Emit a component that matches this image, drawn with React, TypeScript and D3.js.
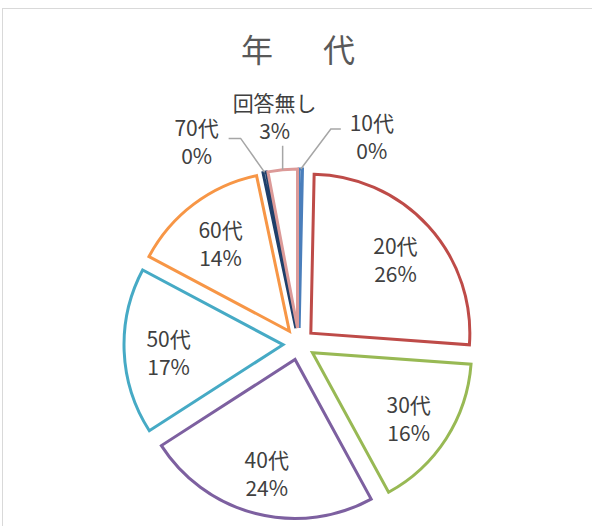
import React from "react";
import * as d3 from "d3";

const categories = ["10代", "20代", "30代", "40代", "50代", "60代", "70代", "回答無し"];
const counts = [1, 78, 48, 72, 51, 42, 1, 9];
const colors = ["#4A7EBB", "#BE4B48", "#98B954", "#7D60A0", "#46AAC5", "#F79646", "#1F3F6A", "#DC9A98"];
const title = "年　代";

const W = 592;
const H = 526;
const CX = 299;
const CY = 344;
const R = 159;
const EXPLODE = 16;

// outside label layout (relative to slice outer point): elbow, end, label center
const outside: Record<string, { ex: number; ey: number; hx: number; lx: number; ly: number; vertical?: boolean }> = {
  "10代": { ex: 30, ey: -40, hx: 10, lx: 71, ly: -31 },
  "70代": { ex: -24, ey: -34, hx: -12, lx: -68, ly: -29 },
  "回答無し": { ex: 0, ey: -24, hx: 0, lx: -8, ly: -52, vertical: true },
};

export default function App() {
  const total = d3.sum(counts);
  const pie = d3.pie<number>().sort(null).startAngle(0).endAngle(2 * Math.PI);
  const arcs = pie(counts);
  const arc = d3.arc<d3.PieArcDatum<number>>().innerRadius(0).outerRadius(R);
  const fmt = (v: number) => `${Math.round((v / total) * 100)}%`;

  return (
    <svg width={W} height={H} style={{ position: "absolute", left: 0, top: 0, background: "#fff" }}>
      <rect x={2.5} y={8.5} width={700} height={700} fill="#fff" stroke="#D9D9D9" strokeWidth={1} />
      <text
        x={241}
        y={62}
        fontFamily="'Noto Sans CJK JP', sans-serif"
        fontSize={32}
        letterSpacing={9}
        fill="#595959"
      >
        {title}
      </text>
      {arcs.map((a, i) => {
        const mid = (a.startAngle + a.endAngle) / 2;
        const dx = Math.sin(mid) * EXPLODE;
        const dy = -Math.cos(mid) * EXPLODE;
        return (
          <path
            key={categories[i]}
            d={arc(a) || ""}
            transform={`translate(${CX + dx},${CY + dy})`}
            fill="#fff"
            stroke={colors[i]}
            strokeWidth={3}
            strokeLinejoin="miter"
          />
        );
      })}
      {arcs.map((a, i) => {
        const mid = (a.startAngle + a.endAngle) / 2;
        const sx = CX + Math.sin(mid) * EXPLODE;
        const sy = CY - Math.cos(mid) * EXPLODE;
        const name = categories[i];
        const o = outside[name];
        const tStyle = {
          fontFamily: "'Noto Sans CJK JP', sans-serif",
          fontSize: 21,
          fill: "#404040",
          textAnchor: "middle" as const,
        };
        if (o) {
          const px = sx + Math.sin(mid) * R;
          const py = sy - Math.cos(mid) * R;
          const ex = px + o.ex;
          const ey = py + o.ey;
          const pts = o.vertical
            ? `${px},${py} ${ex},${ey}`
            : `${px},${py} ${ex},${ey} ${ex + o.hx},${ey}`;
          const lx = px + o.lx;
          const ly = py + o.ly;
          return (
            <g key={name}>
              <polyline points={pts} fill="none" stroke="#A6A6A6" strokeWidth={1.5} />
              <text x={lx} y={ly - 7} style={tStyle}>{name}</text>
              <text x={lx} y={ly + 21} style={tStyle}>{fmt(counts[i])}</text>
            </g>
          );
        }
        const lr = R * 0.72;
        const lx = sx + Math.sin(mid) * lr;
        const ly = sy - Math.cos(mid) * lr;
        return (
          <g key={name}>
            <text x={lx} y={ly - 2} style={tStyle}>{name}</text>
            <text x={lx} y={ly + 26} style={tStyle}>{fmt(counts[i])}</text>
          </g>
        );
      })}
    </svg>
  );
}
